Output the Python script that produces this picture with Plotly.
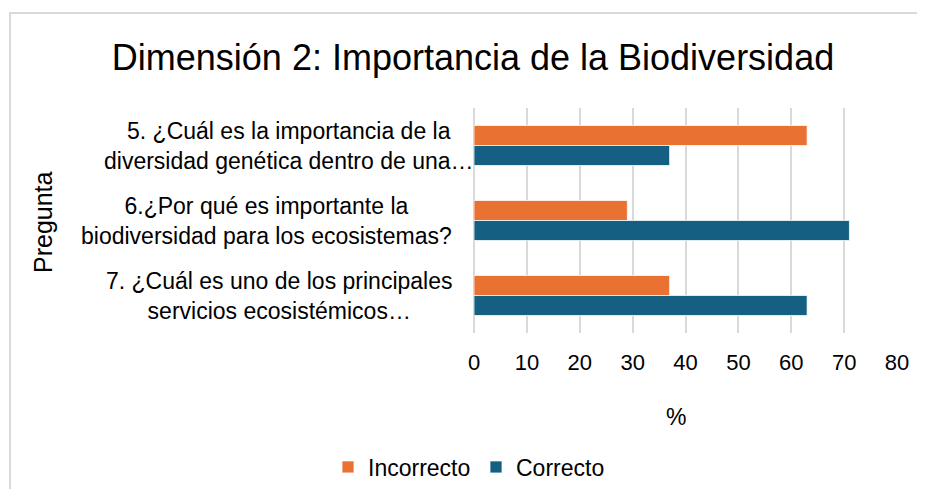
import plotly.graph_objects as go

# datos
preguntas = [
    "5. ¿Cuál es la importancia de la<br>diversidad genética dentro de una…",
    "6.¿Por qué es importante la<br>biodiversidad para los ecosistemas?",
    "7. ¿Cuál es uno de los principales<br>servicios ecosistémicos…",
]
incorrecto = [63, 29, 37]
correcto = [37, 71, 63]
x_ticks = [0, 10, 20, 30, 40, 50, 60, 70, 80]

NARANJA = "#E97132"
AZUL = "#156082"
GRIS = "#D9D9D9"
FUENTE = "Liberation Sans, Arial, sans-serif"

# la pagina deja 8px de margen; la figura ocupa el resto de la ventana
OFF = 8
W, H = 925 - 2 * OFF, 497 - 2 * OFF
L, T = 474 - OFF, 108 - OFF
R, B = W - (897 - OFF), H - (333 - OFF)
ancho = W - L - R
alto = H - T - B


# posiciones en pixeles de la ventana -> coordenadas paper
def px_x(p):
    return (p - OFF - L) / ancho


def px_y(p):
    return (H - B - (p - OFF)) / alto


fig = go.Figure()
fig.add_trace(go.Bar(
    y=preguntas, x=incorrecto, name="Incorrecto", orientation="h",
    marker=dict(color=NARANJA, line=dict(color="white", width=0.75)),
))
fig.add_trace(go.Bar(
    y=preguntas, x=correcto, name="Correcto", orientation="h",
    marker=dict(color=AZUL, line=dict(color="white", width=0.75)),
))

# etiquetas de las preguntas, centradas como en Excel
centros = [289, 266, 279]
for q, c in zip(preguntas, centros):
    fig.add_annotation(
        text=q, xref="paper", yref="y", x=px_x(c), y=q,
        xanchor="center", yanchor="middle", align="center", showarrow=False,
        font=dict(size=23, color="#000000", family=FUENTE),
    )

fig.add_annotation(
    text="Pregunta", xref="paper", yref="paper", x=px_x(43), y=px_y(222),
    textangle=-90, showarrow=False, xanchor="center", yanchor="middle",
    font=dict(size=25, color="#000000", family=FUENTE),
)

fig.add_annotation(
    text="%", xref="paper", yref="paper", x=px_x(676), y=px_y(417),
    showarrow=False, xanchor="center", yanchor="middle",
    font=dict(size=23, color="#000000", family=FUENTE),
)

# marco del grafico
fig.add_shape(
    type="rect", xref="paper", yref="paper",
    x0=px_x(10), x1=px_x(940), y0=px_y(520), y1=px_y(13),
    line=dict(color=GRIS, width=2), fillcolor="rgba(0,0,0,0)", layer="below",
)

fig.update_layout(
    width=W, height=H,
    margin=dict(l=L, r=R, t=T, b=B, autoexpand=False),
    paper_bgcolor="white", plot_bgcolor="white",
    barmode="group", bargap=0.467, bargroupgap=0,
    font=dict(family=FUENTE, color="#000000", size=22),
    title=dict(
        text="Dimensión 2: Importancia de la Biodiversidad",
        x=(473 - OFF) / W, xref="container", xanchor="center",
        y=1 - (57 - OFF) / H, yref="container", yanchor="middle",
        font=dict(size=36, color="#000000", family=FUENTE),
    ),
    xaxis=dict(
        range=[0, 80], tickvals=x_ticks, showgrid=True, gridcolor=GRIS,
        gridwidth=1.5, zeroline=True, zerolinecolor=GRIS, zerolinewidth=1.5,
        showline=False, ticks="", ticklabelstandoff=14,
        tickfont=dict(size=22),
    ),
    yaxis=dict(
        autorange="reversed", showticklabels=False, showgrid=False,
        zeroline=False, showline=False, ticks="",
    ),
    legend=dict(
        orientation="h", xref="container", x=(476 - OFF) / W, xanchor="center",
        yref="container", y=1 - (467 - OFF) / H, yanchor="middle",
        font=dict(size=23), traceorder="normal", entrywidth=103,
    ),
    showlegend=True,
)

fig.write_html("out.html")
